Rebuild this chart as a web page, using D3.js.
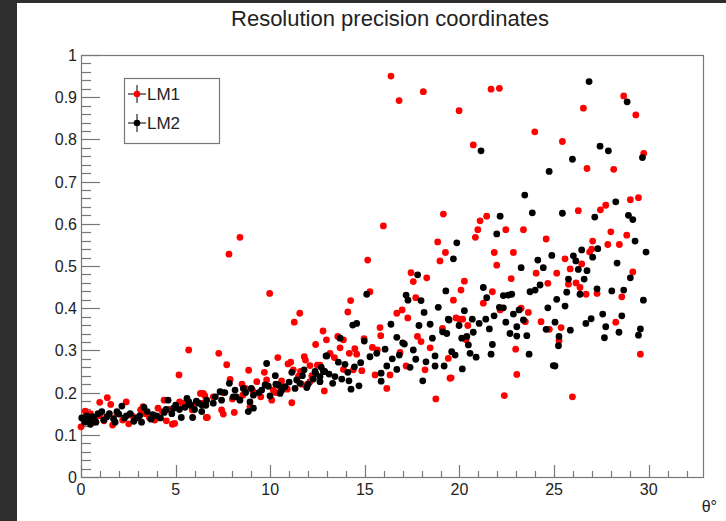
<!DOCTYPE html>
<meta charset="utf-8">
<style>
body { margin:0; background:#2e2e2e; }
svg { display:block; }
text { font-family: "Liberation Sans", Arial, sans-serif; fill:#222; }
</style>
<body>
<svg width="726" height="521" id="vis"></svg>
</body>
<script src="https://d3js.org/d3.v7.min.js"></script>
<script>
// LM1 (red) points: [theta, resolution]
var lm1Points = [
  [0.0,0.119],[0.1,0.14],[0.23,0.156],[0.5,0.15],[0.7,0.13],[0.99,0.177],[1.0,0.145],[1.22,0.133],
  [1.39,0.188],[1.57,0.172],[1.67,0.123],[1.9,0.15],[2.2,0.135],[2.39,0.178],[2.52,0.126],[2.7,0.145],
  [3.0,0.14],[3.15,0.159],[3.28,0.167],[3.4,0.15],[3.61,0.141],[3.9,0.135],[4.07,0.163],[4.3,0.155],
  [4.39,0.182],[4.51,0.133],[4.7,0.16],[4.83,0.125],[4.95,0.127],[5.18,0.242],[5.21,0.178],[5.4,0.17],
  [5.48,0.175],[5.69,0.301],[5.88,0.159],[5.9,0.165],[6.09,0.178],[6.31,0.198],[6.4,0.175],[6.46,0.198],
  [6.54,0.193],[6.62,0.141],[6.68,0.141],[6.99,0.190],[7.28,0.293],[7.43,0.159],[7.5,0.2],[7.52,0.149],
  [7.70,0.266],[7.82,0.528],[7.88,0.231],[8.0,0.185],[8.10,0.153],[8.40,0.568],[8.51,0.220],[8.55,0.194],
  [8.7,0.21],[8.86,0.253],[8.93,0.167],[9.07,0.205],[9.29,0.226],[9.5,0.19],[9.69,0.248],[9.81,0.230],
  [9.97,0.435],[10.08,0.182],[10.16,0.206],[10.3,0.2],[10.40,0.283],[10.52,0.214],[10.60,0.228],[10.90,0.208],
  [10.94,0.268],[11.08,0.272],[11.14,0.176],[11.22,0.254],[11.27,0.367],[11.49,0.239],[11.56,0.388],[11.6,0.25],
  [11.66,0.220],[11.80,0.285],[11.86,0.277],[12.10,0.264],[12.10,0.226],[12.2,0.24],[12.40,0.314],[12.49,0.265],
  [12.63,0.265],[12.79,0.346],[12.86,0.204],[12.97,0.325],[13.16,0.293],[13.39,0.283],[13.57,0.333],[13.69,0.306],
  [13.87,0.325],[13.87,0.255],[14.10,0.391],[14.18,0.293],[14.25,0.418],[14.39,0.254],[14.47,0.304],[14.57,0.291],
  [14.84,0.252],[14.96,0.328],[15.15,0.514],[15.27,0.439],[15.40,0.307],[15.54,0.242],[15.66,0.301],[15.80,0.354],
  [15.84,0.335],[15.98,0.595],[16.16,0.210],[16.33,0.242],[16.38,0.950],[16.69,0.388],[16.81,0.892],[16.86,0.295],
  [16.97,0.396],[17.18,0.263],[17.27,0.377],[17.44,0.484],[17.56,0.463],[17.69,0.425],[17.78,0.333],[17.97,0.321],
  [18.09,0.913],[18.18,0.254],[18.27,0.472],[18.45,0.306],[18.75,0.185],[18.85,0.557],[18.97,0.512],[19.10,0.352],
  [19.15,0.623],[19.26,0.532],[19.41,0.281],[19.50,0.234],[19.56,0.235],[19.68,0.419],[19.82,0.377],[19.98,0.868],
  [20.00,0.374],[20.08,0.443],[20.17,0.374],[20.26,0.464],[20.35,0.325],[20.44,0.359],[20.73,0.787],[20.84,0.568],
  [20.97,0.586],[21.09,0.607],[21.26,0.412],[21.44,0.618],[21.67,0.919],[21.74,0.439],[21.84,0.532],[21.97,0.502],
  [22.11,0.921],[22.15,0.396],[22.37,0.193],[22.45,0.586],[22.73,0.470],[22.85,0.532],[22.97,0.303],[23.03,0.243],
  [23.26,0.400],[23.38,0.586],[23.48,0.368],[23.64,0.390],[23.98,0.818],[24.05,0.483],[24.31,0.368],[24.58,0.564],
  [24.67,0.459],[24.75,0.350],[25.14,0.483],[25.26,0.323],[25.37,0.354],[25.44,0.795],[25.58,0.517],[25.76,0.457],
  [25.85,0.493],[25.97,0.190],[26.16,0.460],[26.28,0.631],[26.37,0.449],[26.46,0.505],[26.55,0.874],[26.69,0.433],
  [26.74,0.731],[26.88,0.533],[26.99,0.540],[27.04,0.559],[27.27,0.435],[27.45,0.633],[27.73,0.644],[27.84,0.551],
  [28.00,0.581],[28.15,0.729],[28.26,0.367],[28.45,0.551],[28.58,0.427],[28.68,0.903],[28.84,0.573],[29.03,0.657],
  [29.16,0.486],[29.32,0.858],[29.46,0.662],[29.56,0.291],[29.74,0.767]
];

// LM2 (black) points
var lm2Points = [
  [0.04,0.140],[0.2,0.13],[0.3,0.145],[0.4,0.135],[0.5,0.125],[0.6,0.143],[0.7,0.14],[0.79,0.13],
  [0.9,0.15],[1.1,0.155],[1.2,0.135],[1.37,0.143],[1.5,0.15],[1.72,0.138],[1.8,0.13],[1.9,0.155],
  [2.0,0.149],[2.16,0.168],[2.3,0.14],[2.4,0.145],[2.6,0.15],[2.79,0.132],[2.9,0.14],[3.1,0.145],
  [3.2,0.13],[3.33,0.165],[3.5,0.155],[3.7,0.137],[3.8,0.148],[4.0,0.145],[4.2,0.14],[4.4,0.153],
  [4.5,0.16],[4.6,0.182],[4.8,0.15],[4.9,0.163],[5.0,0.17],[5.2,0.16],[5.3,0.141],[5.5,0.165],
  [5.6,0.186],[5.7,0.178],[5.8,0.17],[5.9,0.141],[6.0,0.16],[6.1,0.18],[6.2,0.175],[6.38,0.155],
  [6.4,0.17],[6.6,0.17],[6.64,0.182],[6.99,0.175],[7.1,0.19],[7.35,0.202],[7.43,0.182],[7.6,0.2],
  [7.84,0.222],[8.05,0.190],[8.14,0.206],[8.2,0.19],[8.40,0.182],[8.58,0.210],[8.7,0.2],[8.84,0.155],
  [8.93,0.178],[9.0,0.21],[9.11,0.194],[9.11,0.163],[9.4,0.2],[9.55,0.206],[9.73,0.218],[9.81,0.269],
  [9.9,0.215],[9.99,0.192],[10.27,0.240],[10.3,0.22],[10.43,0.218],[10.52,0.198],[10.6,0.205],[10.78,0.214],
  [11.0,0.225],[11.14,0.248],[11.31,0.210],[11.4,0.23],[11.57,0.222],[11.7,0.24],[11.79,0.254],[11.93,0.212],
  [12.0,0.22],[12.28,0.232],[12.37,0.250],[12.4,0.245],[12.63,0.238],[12.63,0.226],[12.7,0.26],[12.81,0.250],
  [12.88,0.250],[12.95,0.287],[12.99,0.287],[13.11,0.244],[13.30,0.222],[13.42,0.238],[13.60,0.272],[13.69,0.329],
  [13.78,0.232],[13.95,0.267],[14.10,0.248],[14.16,0.228],[14.27,0.208],[14.36,0.360],[14.45,0.261],[14.57,0.364],
  [14.69,0.216],[14.78,0.271],[14.97,0.322],[15.10,0.433],[15.27,0.285],[15.63,0.293],[15.86,0.246],[15.86,0.227],
  [16.07,0.303],[16.16,0.263],[16.38,0.362],[16.45,0.280],[16.69,0.331],[16.69,0.255],[16.82,0.289],[17.00,0.318],
  [17.09,0.315],[17.18,0.431],[17.28,0.419],[17.39,0.260],[17.56,0.301],[17.69,0.279],[17.79,0.479],[17.86,0.359],
  [17.97,0.418],[18.06,0.228],[18.13,0.390],[18.23,0.273],[18.45,0.362],[18.57,0.329],[18.71,0.287],[18.71,0.263],
  [18.88,0.402],[19.11,0.344],[19.19,0.263],[19.28,0.441],[19.33,0.340],[19.41,0.374],[19.45,0.372],[19.59,0.297],
  [19.68,0.517],[19.77,0.289],[19.86,0.555],[19.98,0.359],[20.12,0.329],[20.15,0.256],[20.26,0.394],[20.39,0.333],
  [20.47,0.313],[20.56,0.293],[20.68,0.374],[20.73,0.343],[20.88,0.284],[21.04,0.364],[21.14,0.773],[21.26,0.449],
  [21.39,0.374],[21.44,0.425],[21.58,0.351],[21.67,0.291],[21.74,0.314],[21.83,0.382],[21.97,0.576],[22.11,0.402],
  [22.15,0.618],[22.32,0.430],[22.32,0.401],[22.45,0.367],[22.58,0.431],[22.67,0.340],[22.76,0.433],[22.85,0.386],
  [23.03,0.356],[23.03,0.334],[23.15,0.396],[23.26,0.496],[23.38,0.372],[23.45,0.668],[23.56,0.335],[23.68,0.291],
  [23.73,0.439],[23.85,0.626],[24.00,0.443],[24.14,0.514],[24.26,0.455],[24.43,0.496],[24.58,0.350],[24.67,0.401],
  [24.74,0.724],[24.88,0.525],[24.96,0.264],[25.05,0.367],[25.05,0.263],[25.14,0.421],[25.23,0.311],[25.26,0.333],
  [25.44,0.625],[25.58,0.405],[25.67,0.438],[25.76,0.469],[25.86,0.348],[25.97,0.753],[26.02,0.524],[26.15,0.512],
  [26.28,0.492],[26.37,0.433],[26.46,0.538],[26.59,0.469],[26.68,0.364],[26.74,0.489],[26.85,0.937],[26.96,0.375],
  [27.04,0.521],[27.15,0.616],[27.27,0.446],[27.31,0.541],[27.43,0.784],[27.57,0.386],[27.66,0.330],[27.73,0.356],
  [27.87,0.773],[28.05,0.441],[28.26,0.652],[28.33,0.507],[28.43,0.343],[28.58,0.382],[28.68,0.443],[28.86,0.889],
  [28.93,0.620],[29.03,0.472],[29.16,0.610],[29.28,0.559],[29.46,0.336],[29.56,0.351],[29.67,0.757],[29.72,0.419],
  [29.86,0.533]
];

var xTicks = [0, 5, 10, 15, 20, 25, 30];
var yTicks = [0, 0.1, 0.2, 0.3, 0.4, 0.5, 0.6, 0.7, 0.8, 0.9, 1];
var series = [
  {name: "LM1", color: "#ff0000", points: lm1Points},
  {name: "LM2", color: "#000000", points: lm2Points}
];

var svg = d3.select("svg");
var frame = {left: 81, top: 55, right: 703, bottom: 477};

// white pad (dark canvas border shows on the left and top)
svg.append("rect").attr("x", 17).attr("y", 3).attr("width", 709).attr("height", 518).attr("fill", "#fff");

var x = d3.scaleLinear().domain([0, 32.87]).range([frame.left, frame.right]);
var y = d3.scaleLinear().domain([0, 1]).range([frame.bottom, frame.top]);

svg.append("text")
  .attr("x", 390).attr("y", 26)
  .attr("text-anchor", "middle")
  .style("font-size", "22px")
  .text("Resolution precision coordinates");

var g = svg.append("g");

// frame
g.append("rect")
  .attr("x", frame.left + 0.5).attr("y", frame.top + 0.5)
  .attr("width", frame.right - frame.left).attr("height", frame.bottom - frame.top)
  .attr("fill", "none").attr("stroke", "#777").attr("stroke-width", 1.2);

// y axis ticks (ROOT style, inside the frame)
var yMinor = d3.range(0, 1.0001, 0.02);
g.selectAll("line.ymin").data(yMinor).enter().append("line")
  .attr("class", "ymin")
  .attr("x1", frame.left).attr("x2", function(d, i) { return frame.left + (i % 5 == 0 ? 19 : 10); })
  .attr("y1", function(d) { return Math.round(y(d)) + 0.5; })
  .attr("y2", function(d) { return Math.round(y(d)) + 0.5; })
  .attr("stroke", "#777").attr("stroke-width", 1.2);

g.selectAll("text.ylab").data(yTicks).enter().append("text")
  .attr("class", "ylab")
  .attr("x", 77).attr("y", function(d) { return y(d) + 6; })
  .attr("text-anchor", "end")
  .style("font-size", "16px")
  .text(function(d) { return d3.format("~g")(d); });

// x axis ticks
var xMinor = d3.range(0, 33, 1);
g.selectAll("line.xmin").data(xMinor).enter().append("line")
  .attr("class", "xmin")
  .attr("x1", function(d) { return Math.round(x(d)) + 0.5; })
  .attr("x2", function(d) { return Math.round(x(d)) + 0.5; })
  .attr("y1", frame.bottom).attr("y2", function(d) { return frame.bottom - (d % 5 == 0 ? 12 : 6); })
  .attr("stroke", "#777").attr("stroke-width", 1.2);

g.selectAll("text.xlab").data(xTicks).enter().append("text")
  .attr("class", "xlab")
  .attr("x", function(d) { return x(d); }).attr("y", 495)
  .attr("text-anchor", "middle")
  .style("font-size", "16px")
  .text(function(d) { return d; });

svg.append("text")
  .attr("x", 717).attr("y", 512)
  .attr("text-anchor", "end")
  .style("font-size", "16px")
  .text("θ°");

// markers
series.forEach(function(s) {
  g.append("g").selectAll("circle").data(s.points).enter().append("circle")
    .attr("cx", function(d) { return x(d[0]); })
    .attr("cy", function(d) { return y(d[1]); })
    .attr("r", 3.4)
    .attr("fill", s.color);
});

// legend
var leg = svg.append("g");
leg.append("rect")
  .attr("x", 124.5).attr("y", 78.5).attr("width", 95).attr("height", 65)
  .attr("fill", "#fff").attr("stroke", "#777").attr("stroke-width", 1.2);

var legRows = leg.selectAll("g.row").data(series).enter().append("g")
  .attr("class", "row")
  .attr("transform", function(d, i) { return "translate(137," + (94 + i * 29) + ")"; });
legRows.append("line").attr("x1", -9).attr("x2", 9).attr("y1", 0).attr("y2", 0).attr("stroke", "#000");
legRows.append("line").attr("x1", 0).attr("x2", 0).attr("y1", -9).attr("y2", 9).attr("stroke", "#000");
legRows.append("circle").attr("r", 3.3).attr("fill", function(d) { return d.color; });
legRows.append("text")
  .attr("x", 10).attr("y", 6)
  .style("font-size", "17px")
  .text(function(d) { return d.name; });
</script>
